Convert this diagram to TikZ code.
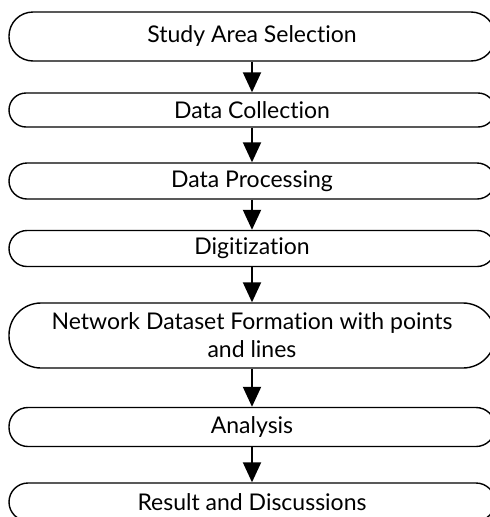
\documentclass[tikz,border=0pt]{standalone}
\usepackage{fontspec}
\setmainfont{Lato}[Ligatures=NoCommon]
\usetikzlibrary{arrows.meta}
\begin{document}
\begin{tikzpicture}[x=1pt,y=-1pt,
  stage/.style={draw=black, line width=1.4pt, rectangle, minimum width=486pt,
    inner sep=0pt, align=center, font=\fontsize{23}{28}\selectfont},
  flow/.style={line width=2pt, -{Triangle[length=20pt,width=18pt]}}]
\useasboundingbox (0,0) rectangle (490,517);
\clip (0,0) rectangle (490,517);
\node[stage, minimum height=49pt, rounded corners=24pt] (a) at (252,36.5) {Study Area Selection};
\node[stage, minimum height=34pt, rounded corners=17pt] (b) at (252,110) {Data Collection};
\node[stage, minimum height=36pt, rounded corners=18pt] (c) at (252,181) {Data Processing};
\node[stage, minimum height=36pt, rounded corners=18pt] (d) at (252,248.5) {Digitization};
\node[stage, minimum height=65pt, rounded corners=32pt] (e) at (252,335.5) {Network Dataset Formation with points\\and lines};
\node[stage, minimum height=39pt, rounded corners=19pt] (f) at (252,427) {Analysis};
\node[stage, minimum height=38pt, rounded corners=19pt] (g) at (252,502) {Result and Discussions};
\draw[flow] (a.south) -- (b.north);
\draw[flow] (b.south) -- (c.north);
\draw[flow] (c.south) -- (d.north);
\draw[flow] (d.south) -- (e.north);
\draw[flow] (e.south) -- (f.north);
\draw[flow] (f.south) -- (g.north);
\end{tikzpicture}
\end{document}
